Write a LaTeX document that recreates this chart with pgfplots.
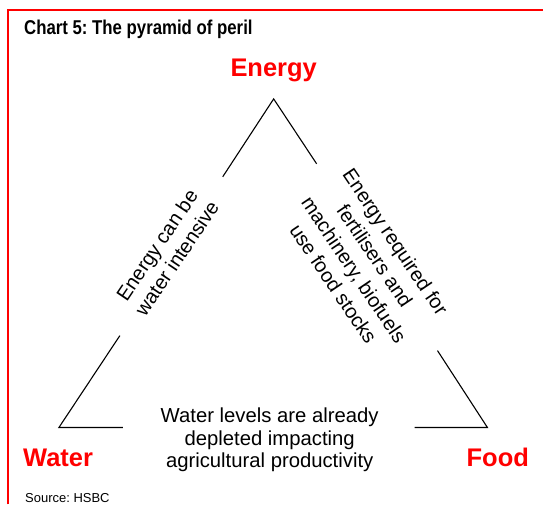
\documentclass[border=0pt]{standalone}
\usepackage{fontspec}
\setmainfont{Liberation Sans}
\usepackage{graphicx}
\usepackage{pgfplots}
\pgfplotsset{compat=1.18}
\frenchspacing
\begin{document}
\begin{tikzpicture}
\begin{axis}[width=544pt,height=505pt,scale only axis,
  xmin=0,xmax=544,ymin=0,ymax=505,y dir=reverse,hide axis,clip=false]
\path (axis cs:0,0) rectangle (axis cs:544,505);
% red frame
\addplot[red,mark=none,line width=1.3pt] coordinates {(8,505) (8,10) (544,10)};
% triangle segments
\addplot[black,mark=none,line width=1.1pt] coordinates {(223,177) (274,99) (317,164)};
\addplot[black,mark=none,line width=1.1pt] coordinates {(120,336) (59,428) (123,428)};
\addplot[black,mark=none,line width=1.1pt] coordinates {(415,428) (488,428) (438,351)};
% texts
\node[anchor=base west,inner sep=0pt,font=\bfseries\fontsize{20}{24}\selectfont] at (axis cs:24,35) {\scalebox{0.84}[1]{\frenchspacing Chart 5: The pyramid of peril}};
\node[anchor=base,inner sep=0pt,text=red,font=\bfseries\fontsize{25.5}{30}\selectfont] at (axis cs:274,77) {Energy};
\node[anchor=base west,inner sep=0pt,text=red,font=\bfseries\fontsize{25.5}{30}\selectfont] at (axis cs:23,467) {Water};
\node[anchor=base west,inner sep=0pt,text=red,font=\bfseries\fontsize{25.5}{30}\selectfont] at (axis cs:467,467) {Food};
\node[anchor=base west,inner sep=0pt,font=\fontsize{13}{15}\selectfont] at (axis cs:25,503) {\frenchspacing Source: HSBC};
\node[anchor=base,inner sep=0pt,font=\fontsize{20.3}{24}\selectfont] at (axis cs:270,423) {Water levels are already};
\node[anchor=base,inner sep=0pt,font=\fontsize{20.3}{24}\selectfont] at (axis cs:270,446) {depleted impacting};
\node[anchor=base,inner sep=0pt,font=\fontsize{20.3}{24}\selectfont] at (axis cs:270,468) {agricultural productivity};
\node[rotate=56,align=center,inner sep=0pt,font=\fontsize{20}{24}\selectfont] at (axis cs:167,252) {Energy can be\\water intensive};
\node[rotate=-56,align=center,inner sep=0pt,font=\fontsize{20}{25}\selectfont] at (axis cs:365,263) {\frenchspacing Energy required for\\fertilisers and\\machinery, biofuels\\use food stocks};
\end{axis}
\end{tikzpicture}
\end{document}
